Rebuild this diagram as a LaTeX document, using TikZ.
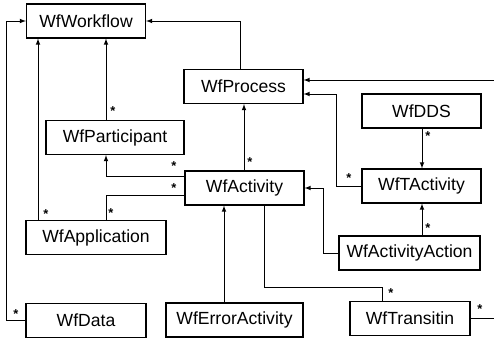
\documentclass[tikz,border=0pt]{standalone}
\usepackage{fontspec}
\setmainfont{Liberation Sans}
\usetikzlibrary{arrows,shapes,positioning,calc}

\begin{document}
\begin{tikzpicture}
[x=.03cm,y=-.03cm,
    cls/.style={draw,line width=1pt,minimum height=1.02cm,minimum width=3.57cm,
    inner sep=0mm,font=\fontsize{15}{17}\selectfont},
    edge/.style={line width=.8pt,>=latex},
    many/.style={font=\bfseries\fontsize{11}{12}\selectfont,inner sep=0mm}]

\useasboundingbox (0,0) rectangle (494,340);

%% classes
\node[cls] (flow) at (86,21) {WfWorkflow};
\node[cls] (proc) at (243.5,86.5) {WfProcess};
\node[cls,minimum width=4.14cm] (part) at (115,137.5) {WfParticipant};
\node[cls] (act) at (244.5,188) {WfActivity};
\node[cls] (dds) at (421.5,111) {WfDDS};
\node[cls] (tact) at (421.5,186) {WfTActivity};
\node[cls,minimum width=4.23cm] (action) at (409.5,253) {WfActivityAction};
\node[cls,minimum width=4.2cm] (app) at (96,237.5) {WfApplication};
\node[cls,minimum width=3.6cm] (data) at (86,320.5) {WfData};
\node[cls,minimum width=4.11cm] (err) at (234.5,320) {WfErrorActivity};
\node[cls,minimum width=3.6cm] (trans) at (410,318.5) {WfTransitin};

%% free ends at the border
\coordinate (out1) at (494,318.5);
\coordinate (out2) at (494,80);

%% associations
\draw[edge,->] (106,0 |- part.north) -- (106,0 |- flow.south);
\draw[edge,->] (38,0 |- app.north) -- (38,0 |- flow.south);
\draw[edge,->] (data.west) -- (6,0 |- data.west) |- (flow.west);
\draw[edge,->] (240,0 |- proc.north) |- (flow.east);
\draw[edge,->] (244,0 |- act.north) -- (244,0 |- proc.south);
\draw[edge,->] (act.west |- 0,176) -| (106,0 |- part.south);
\draw[edge] (act.west |- 0,195) -| (106,0 |- app.north);
\draw[edge,->] (224,0 |- err.north) -- (224,0 |- act.south);
\draw[edge] (264,0 |- act.south) -- (264,287) -| (382,0 |- trans.north);
\draw[edge,->] (action.west) -| (323,0 |- act.east) -- (act.east);
\draw[edge,->] (422,0 |- action.north) -- (422,0 |- tact.south);
\draw[edge,->] (422,0 |- dds.south) -- (422,0 |- tact.north);
\draw[edge,->] (tact.west) -| (336,94) -- (proc.east |- 0,94);
\draw[edge] (trans.east) -- (out1);
\draw[edge,->] (out2) -- (proc.east |- out2);

%% multiplicities
\node[many] (s1) at (113,111) {*};
\node[many] (s2) at (46,214) {*};
\node[many] (s3) at (16,314) {*};
\node[many] (s4) at (250,162) {*};
\node[many] (s5) at (174,166) {*};
\node[many] (s6) at (174,188) {*};
\node[many] (s7) at (111,213) {*};
\node[many] (s8) at (391,293) {*};
\node[many] (s9) at (428,228) {*};
\node[many] (s10) at (428,136) {*};
\node[many] (s11) at (349,178) {*};
\node[many] (s12) at (480,309) {*};

\end{tikzpicture}
\end{document}
